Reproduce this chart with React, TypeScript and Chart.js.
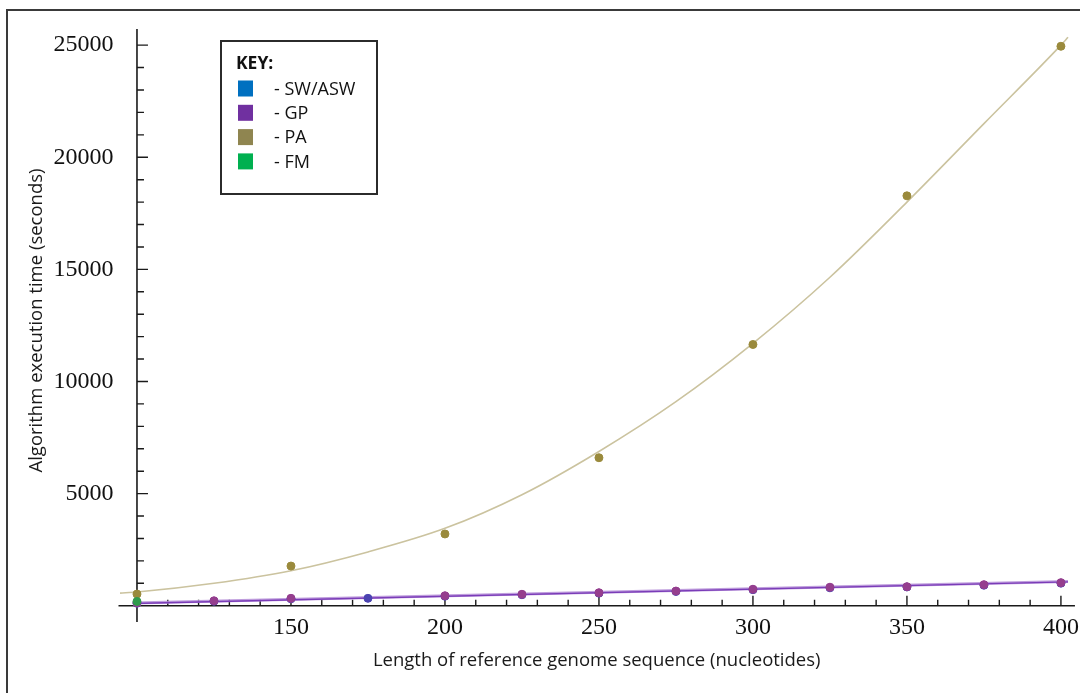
import React, { useEffect, useRef } from "react";
import { Chart, registerables } from "chart.js";

Chart.register(...registerables);

// ---- data ----
const paX = [100, 150, 200, 250, 300, 350, 400];
const paValues = [520, 1770, 3200, 6600, 11650, 18280, 24950];

const paFitX = [94.5, 100, 125, 150, 175, 200, 225, 250, 275, 300, 325, 350, 375, 400, 402.3];
const paFitValues = [560, 610, 1000, 1560, 2400, 3450, 4950, 6880, 9100, 11700, 14650, 18000, 21500, 25000, 25350];

const swX = [100, 125, 150, 175, 200, 225, 250, 275, 300, 325, 350, 375, 400];
const swValues = [110, 200, 310, 330, 425, 490, 560, 635, 715, 800, 835, 915, 1005];

const gpX = [100, 125, 150, 200, 225, 250, 275, 300, 325, 350, 375, 400];
const gpValues = [130, 220, 330, 445, 510, 580, 655, 735, 825, 850, 940, 1030];

const fmX = [100];
const fmValues = [190];

const lowFitX = [98.7, 402.3];
const swFitValues = [125, 1085];
const gpFitValues = [100, 1065];

const xMajorTicks = [150, 200, 250, 300, 350, 400];
const xMinorTicks = [110, 120, 130, 140, 160, 170, 180, 190, 210, 220, 230, 240, 260, 270, 280, 290, 310, 320, 330, 340, 360, 370, 380, 390];
const yMajorTicks = [5000, 10000, 15000, 20000, 25000];
const yMinorTicks = [1000, 2000, 3000, 4000, 6000, 7000, 8000, 9000, 11000, 12000, 13000, 14000, 16000, 17000, 18000, 19000, 21000, 22000, 23000, 24000];

const legendLabels = ["- SW/ASW", "- GP", "- PA", "- FM"];
const legendColors = ["#0070C0", "#7030A0", "#8F8550", "#00B050"];

const xTitle = "Length of reference genome sequence (nucleotides)";
const yTitle = "Algorithm execution time (seconds)";

const pts = (xs: number[], ys: number[]) => xs.map((x, i) => ({ x, y: ys[i] }));

const axisPlugin = {
  id: "axisLines",
  beforeDatasetsDraw(chart: any) {
    const { ctx, chartArea } = chart;
    const xs = chart.scales.x;
    const ys = chart.scales.y;
    const x0 = xs.getPixelForValue(100);
    const y0 = ys.getPixelForValue(0);
    ctx.save();
    ctx.strokeStyle = "#1a1a1a";
    ctx.lineWidth = 1.6;
    ctx.beginPath();
    ctx.moveTo(chartArea.left, y0);
    ctx.lineTo(chartArea.right, y0);
    ctx.moveTo(x0, chartArea.top);
    ctx.lineTo(x0, chartArea.bottom + 10);
    ctx.stroke();
    ctx.lineWidth = 1.4;
    ctx.beginPath();
    yMajorTicks.forEach((v) => {
      const p = ys.getPixelForValue(v);
      ctx.moveTo(x0, p);
      ctx.lineTo(x0 + 11, p);
    });
    yMinorTicks.forEach((v) => {
      const p = ys.getPixelForValue(v);
      ctx.moveTo(x0, p);
      ctx.lineTo(x0 + 7, p);
    });
    xMajorTicks.forEach((v) => {
      const p = xs.getPixelForValue(v);
      ctx.moveTo(p, y0);
      ctx.lineTo(p, y0 - 10);
    });
    xMinorTicks.forEach((v) => {
      const p = xs.getPixelForValue(v);
      ctx.moveTo(p, y0);
      ctx.lineTo(p, y0 - 6);
    });
    ctx.stroke();
    ctx.restore();
  },
  afterDraw(chart: any) {
    const { ctx } = chart;
    ctx.save();
    // outer frame (left and top edges visible)
    ctx.strokeStyle = "#3a3a3a";
    ctx.lineWidth = 2;
    ctx.beginPath();
    ctx.moveTo(7, 693);
    ctx.lineTo(7, 10);
    ctx.lineTo(1080, 10);
    ctx.stroke();
    // key box
    ctx.strokeStyle = "#2b2b2b";
    ctx.lineWidth = 2;
    ctx.strokeRect(221, 41, 156, 153);
    ctx.fillStyle = "#111";
    ctx.font = 'bold 17.5px "Open Sans"';
    ctx.textBaseline = "alphabetic";
    ctx.textAlign = "left";
    ctx.fillText("KEY:", 236, 69);
    ctx.font = '18px "Open Sans"';
    ctx.textBaseline = "middle";
    legendLabels.forEach((lab, i) => {
      const cy = 88.5 + i * 24.3;
      ctx.fillStyle = legendColors[i];
      ctx.fillRect(238, cy - 8, 15, 16);
      ctx.fillStyle = "#111";
      ctx.fillText(lab, 274, cy + 1);
    });
    ctx.restore();
  },
};

export default function App() {
  const ref = useRef<HTMLCanvasElement | null>(null);
  useEffect(() => {
    if (!ref.current) return;
    const chart = new Chart(ref.current, {
      type: "scatter",
      data: {
        datasets: [
          {
            label: "FM",
            data: pts(fmX, fmValues),
            backgroundColor: "#2f9a4c",
            borderColor: "#2f9a4c",
            pointRadius: 4,
            showLine: false,
            order: 1,
          },
          {
            label: "GP",
            data: pts(gpX, gpValues),
            backgroundColor: "#953e8e",
            borderColor: "#953e8e",
            pointRadius: 4,
            showLine: false,
            order: 2,
          },
          {
            label: "SW/ASW",
            data: pts(swX, swValues),
            backgroundColor: "#4b43b0",
            borderColor: "#4b43b0",
            pointRadius: 4,
            showLine: false,
            order: 3,
          },
          {
            label: "PA",
            data: pts(paX, paValues),
            backgroundColor: "#9a8a3c",
            borderColor: "#9a8a3c",
            pointRadius: 4,
            showLine: false,
            order: 4,
          },
          {
            label: "GP fit",
            data: pts(lowFitX, gpFitValues),
            borderColor: "#7a3cb8",
            borderWidth: 1.3,
            pointRadius: 0,
            showLine: true,
            order: 5,
          },
          {
            label: "SW/ASW fit",
            data: pts(lowFitX, swFitValues),
            borderColor: "rgba(180,140,215,0.85)",
            borderWidth: 3,
            pointRadius: 0,
            showLine: true,
            order: 6,
          },
          {
            label: "PA fit",
            data: pts(paFitX, paFitValues),
            borderColor: "#cbc39f",
            borderWidth: 1.6,
            pointRadius: 0,
            showLine: true,
            cubicInterpolationMode: "monotone",
            order: 7,
          },
        ],
      },
      options: {
        animation: false,
        responsive: false,
        layout: { padding: { left: 0, right: 5, top: 29, bottom: 0 } },
        plugins: { legend: { display: false }, tooltip: { enabled: false } },
        scales: {
          x: {
            type: "linear",
            min: 94,
            max: 404.55,
            grid: { display: false, drawTicks: false },
            border: { display: false },
            afterFit: (s: any) => {
              s.height = 81;
            },
            afterBuildTicks: (s: any) => {
              s.ticks = xMajorTicks.map((v) => ({ value: v }));
            },
            ticks: {
              padding: 1,
              color: "#111",
              font: { family: '"Liberation Serif"', size: 24 },
              maxRotation: 0,
              autoSkip: false,
              callback: (v: any) => String(v),
            },
            title: {
              display: true,
              text: xTitle,
              color: "#1a1a1a",
              font: { family: '"Open Sans"', size: 18.5 },
              padding: { top: 0, bottom: 21 },
            },
          },
          y: {
            type: "linear",
            min: -280,
            max: 25720,
            grid: { display: false, drawTicks: false },
            border: { display: false },
            afterFit: (s: any) => {
              s.width = 118.5;
            },
            afterBuildTicks: (s: any) => {
              s.ticks = yMajorTicks.map((v) => ({ value: v }));
            },
            ticks: {
              padding: 5,
              color: "#111",
              font: { family: '"Liberation Serif"', size: 24 },
              autoSkip: false,
              callback: (v: any) => String(v),
            },
            title: {
              display: true,
              text: yTitle,
              color: "#1a1a1a",
              font: { family: '"Open Sans"', size: 18.5 },
              padding: { top: 26, bottom: 0 },
            },
          },
        },
      },
      plugins: [axisPlugin],
    } as any);
    return () => chart.destroy();
  }, []);
  return (
    <div style={{ position: "fixed", left: 0, top: 0, width: 1080, height: 693, background: "#fff" }}>
      <canvas ref={ref} width={1080} height={693} style={{ display: "block" }} />
    </div>
  );
}
